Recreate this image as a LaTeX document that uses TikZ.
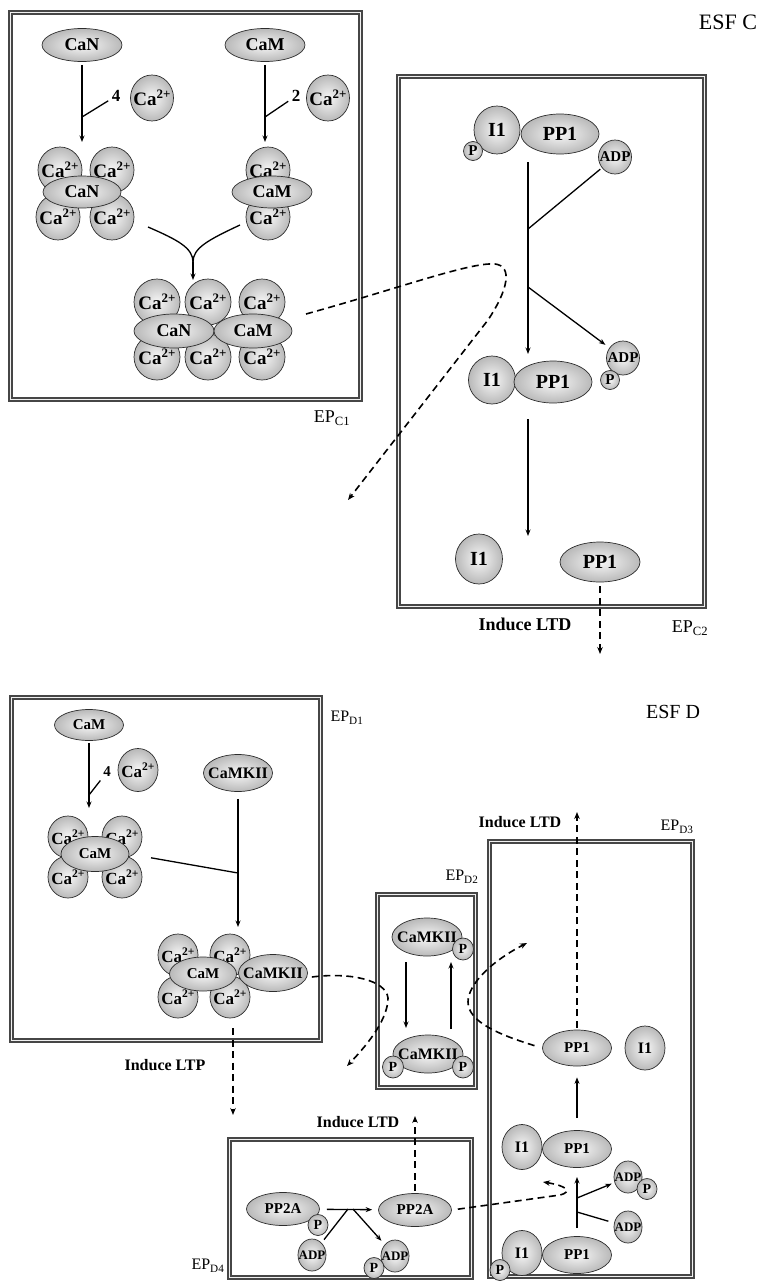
\documentclass[tikz,border=0pt]{standalone}
\usepackage{fontspec}
\usepackage{graphicx}
\setmainfont{Liberation Serif}
\usetikzlibrary{shapes.geometric,arrows.meta}

\newcommand{\caion}{\makebox[0pt]{Ca\raisebox{0.4em}{\scalebox{0.68}{2+}}}}
\newcommand{\caiondn}{\raisebox{-4pt}{\caion}}
\newcommand{\adptxt}{\makebox[0pt]{ADP}}

\tikzset{
  mol/.style 2 args={ellipse, draw=gray!35!black, line width=0.7pt,
    inner color=gray!6, outer color=gray!55, inner sep=0pt,
    minimum width=#1, minimum height=#2},
  fnt/.style={font=\bfseries\fontsize{#1}{#1}\selectfont},
  reg/.style={font=\fontsize{#1}{#1}\selectfont},
  epbox/.style={draw=gray!55!black, line width=4.6pt,
    postaction={draw=gray!12, line width=1.6pt}},
  bond/.style={line width=1.3pt},
  react/.style={line width=1.3pt, -{Stealth[length=6.5pt,width=5pt]}},
  signal/.style={line width=1.6pt, dash pattern=on 7pt off 4.5pt, -{Stealth[length=7pt,width=5.5pt]}},
}

\begin{document}
\begin{tikzpicture}[x=1pt,y=-1pt]
  \useasboundingbox (0,0) rectangle (762,1282);

  % ESF C: frames and labels.
  \node[reg=22] (esfC) at (728,22) {ESF C};
  \draw[epbox] (10.5,12.5) rectangle (360.5,399.5);
  \node[reg=18] (epC1) at (332,418) {EP\textsubscript{C1}};
  \draw[epbox] (398.5,76.5) rectangle (704.5,606.5);
  \node[reg=18] (epC2) at (690,628) {EP\textsubscript{C2}};
  \node[fnt=18] (ltdC2) at (525,624) {Induce LTD};

  % EP_C1: CaN and CaM bind calcium.
  \node[mol={80pt}{33pt}, fnt=18] (CaN) at (82,45) {CaN};
  \node[mol={80pt}{33pt}, fnt=18] (CaM) at (265,45) {CaM};
  \node[mol={43pt}{46pt}, fnt=19] (caA) at (152,98) {\caion};
  \node[mol={43pt}{46pt}, fnt=19] (caB) at (328,98) {\caion};
  \node[fnt=17] (nA) at (116,96) {4};
  \node[fnt=17] (nB) at (296,96) {2};
  \coordinate (jA) at (82,117);  \coordinate (eA) at (82,142);
  \coordinate (jB) at (265,117); \coordinate (eB) at (265,142);
  \draw[react, shorten <=3pt] (CaN) -- (eA);
  \draw[react, shorten <=3pt] (CaM) -- (eB);
  \draw[bond] (jA) -- (nA);
  \draw[bond] (jB) -- (nB);
  \foreach \x/\y/\n in {60/170/cn1,112/170/cn2}
    \node[mol={44pt}{46pt}, fnt=19] (\n) at (\x,\y) {\caiondn};
  \foreach \x/\y/\n in {58/217/cn3,112/217/cn4}
    \node[mol={44pt}{46pt}, fnt=19] (\n) at (\x,\y) {\caion};
  \node[mol={78pt}{32pt}, fnt=18] (CaNc) at (82,192) {CaN};
  \node[mol={44pt}{46pt}, fnt=19] (cm1) at (268,170) {\caiondn};
  \node[mol={44pt}{46pt}, fnt=19] (cm2) at (268,217) {\caion};
  \node[mol={80pt}{32pt}, fnt=18] (CaMc) at (272,192) {CaM};
  % Both complexes join.
  \coordinate (mL) at (148,227); \coordinate (mR) at (240,225);
  \coordinate (mJ) at (193,262); \coordinate (mE) at (193,280);
  \draw[bond] (mL) .. controls (178,240) and (193,248) .. (mJ);
  \draw[bond] (mR) .. controls (208,240) and (193,248) .. (mJ);
  \draw[react] (mJ) -- (mE);
  \foreach \x/\y/\n in {157/302/cb1,208/302/cb2,262/302/cb3}
    \node[mol={46pt}{46pt}, fnt=19] (\n) at (\x,\y) {\caiondn};
  \foreach \x/\y/\n in {157/357/cb4,208/357/cb5,262/357/cb6}
    \node[mol={46pt}{46pt}, fnt=19] (\n) at (\x,\y) {\caion};
  \node[mol={80pt}{34pt}, fnt=18] (CaNb) at (174,331) {CaN};
  \node[mol={78pt}{34pt}, fnt=18] (CaMb) at (253,331) {CaM};

  % EP_C2: I1 is dephosphorylated, PP1 set free.
  \node[mol={46pt}{48pt}, fnt=20] (I1a) at (497,130) {I1};
  \node[mol={19pt}{19pt}, fnt=15] (Pa) at (473,151) {P};
  \node[mol={78pt}{40pt}, fnt=20] (PP1a) at (560,134) {PP1};
  \node[mol={33pt}{34pt}, fnt=15] (ADPa) at (615,157) {\adptxt};
  \node[mol={33pt}{34pt}, fnt=15] (ADPb) at (623,358) {\adptxt};
  \node[mol={19pt}{19pt}, fnt=15] (Pb) at (610,380) {P};
  \node[mol={47pt}{48pt}, fnt=20] (I1b) at (492,380) {I1};
  \node[mol={78pt}{42pt}, fnt=20] (PP1b) at (553,382) {PP1};
  \node[mol={47pt}{50pt}, fnt=20] (I1c) at (479,559) {I1};
  \node[mol={80pt}{40pt}, fnt=20] (PP1c) at (600,562) {PP1};
  \coordinate (c2a) at (528,162); \coordinate (c2b) at (528,354);
  \coordinate (c2j1) at (528,229); \coordinate (c2j2) at (528,287);
  \coordinate (c2c) at (528,419); \coordinate (c2d) at (528,536);
  \draw[react] (c2a) -- (c2b);
  \draw[bond, shorten <=2pt] (ADPa) -- (c2j1);
  \draw[react, shorten >=5pt] (c2j2) -- (ADPb);
  \draw[react] (c2c) -- (c2d);
  \coordinate (oC2) at (600,654);
  \draw[signal, shorten <=4pt] (PP1c) -- (oC2);
  % Signal from EP_C1 to ESF D.
  \coordinate (sC1) at (306,314); \coordinate (tC1) at (348,500);
  \draw[signal] (sC1) .. controls (400,288) and (470,262) .. (495,264)
    .. controls (513,266) and (508,290) .. (488,320) -- (tC1);

  % ESF D: frames and labels.
  \node[reg=20] (esfD) at (673,712) {ESF D};
  \draw[epbox] (11.5,697.5) rectangle (320.5,1040.5);
  \node[reg=16] (epD1) at (347,718) {EP\textsubscript{D1}};
  \node[fnt=16] (ltpD1) at (165,1065) {Induce LTP};
  \draw[epbox] (377.5,894.5) rectangle (475.5,1087.5);
  \node[reg=16] (epD2) at (462,877) {EP\textsubscript{D2}};
  \draw[epbox] (489.5,841.5) rectangle (692.5,1276.5);
  \node[reg=16] (epD3) at (677,827) {EP\textsubscript{D3}};
  \node[fnt=16] (ltdD3) at (520,822) {Induce LTD};
  \draw[epbox] (229.5,1139.5) rectangle (471.5,1277.5);
  \node[reg=16] (epD4) at (208,1266) {EP\textsubscript{D4}};
  \node[fnt=16] (ltdD4) at (358,1122) {Induce LTD};

  % EP_D1: CaM binds calcium, then CaMKII.
  \node[mol={69pt}{31pt}, fnt=15] (CaMd) at (89,725) {CaM};
  \node[mol={40pt}{43pt}, fnt=17] (caD) at (138,770) {\caion};
  \node[fnt=15] (nD) at (107,772) {4};
  \coordinate (d1j) at (89,795); \coordinate (d1e) at (89,808);
  \draw[react, shorten <=2pt] (CaMd) -- (d1e);
  \draw[bond] (d1j) -- (nD);
  \node[mol={69pt}{37pt}, fnt=16] (CaMKIIa) at (238,773) {\makebox[0pt]{CaMKII}};
  \coordinate (d1k) at (238,873); \coordinate (d1ke) at (238,927);
  \draw[react, shorten <=7pt] (CaMKIIa) -- (d1ke);
  \foreach \x/\y/\n in {68/837/dn1,122/837/dn2}
    \node[mol={40pt}{42pt}, fnt=17] (\n) at (\x,\y) {\caiondn};
  \foreach \x/\y/\n in {68/877/dn3,122/877/dn4}
    \node[mol={40pt}{42pt}, fnt=17] (\n) at (\x,\y) {\caion};
  \node[mol={68pt}{35pt}, fnt=15] (CaMe) at (95,854) {CaM};
  \draw[bond, shorten <=22pt] (CaMe.east) -- (d1k);
  \foreach \x/\y/\n in {178/955/dm1,230/955/dm2}
    \node[mol={40pt}{42pt}, fnt=17] (\n) at (\x,\y) {\caiondn};
  \foreach \x/\y/\n in {178/997/dm3,230/997/dm4}
    \node[mol={40pt}{42pt}, fnt=17] (\n) at (\x,\y) {\caion};
  \node[mol={67pt}{34pt}, fnt=15] (CaMf) at (203,974) {CaM};
  \node[mol={69pt}{37pt}, fnt=16] (CaMKIIb) at (273,973) {\makebox[0pt]{CaMKII}};
  \coordinate (d1o) at (233,1028); \coordinate (d1t) at (233,1115);
  \draw[signal] (d1o) -- (d1t);
  \coordinate (tD1) at (347,1066);
  \draw[signal] ([xshift=4pt,yshift=-4pt]CaMKIIb.east) .. controls (350,972) and (386,980) .. (388,998)
    .. controls (388,1018) and (370,1042) .. (tD1);

  % EP_D2: CaMKII phosphorylation cycle.
  \node[mol={70pt}{38pt}, fnt=16] (CaMKIIc) at (427,937) {\makebox[0pt]{CaMKII}};
  \node[mol={21pt}{22pt}, fnt=14] (Pd1) at (463,949) {P};
  \node[mol={70pt}{38pt}, fnt=16] (CaMKIId) at (428,1054) {\makebox[0pt]{CaMKII}};
  \node[mol={21pt}{22pt}, fnt=14] (Pd2) at (393,1067) {P};
  \node[mol={21pt}{22pt}, fnt=14] (Pd3) at (463,1067) {P};
  \coordinate (d2a) at (406,962); \coordinate (d2b) at (406,1028);
  \coordinate (d2c) at (451,1029); \coordinate (d2d) at (451,962);
  \draw[react] (d2a) -- (d2b);
  \draw[react] (d2c) -- (d2d);

  % EP_D3: PP1 released from I1.
  \node[mol={69pt}{36pt}, fnt=15] (PP1d) at (577,1048) {PP1};
  \node[mol={40pt}{44pt}, fnt=16] (I1d) at (645,1048) {I1};
  \coordinate (tD3) at (577,812);
  \draw[signal, shorten <=2pt] (PP1d) -- (tD3);
  \coordinate (tD2) at (527,943);
  \draw[signal, shorten <=8pt] (PP1d.west) .. controls (500,1035) and (468,1022) .. (468,1002)
    .. controls (468,985) and (490,962) .. (tD2);
  \node[mol={40pt}{45pt}, fnt=16] (I1e) at (522,1147) {I1};
  \node[mol={69pt}{37pt}, fnt=15] (PP1e) at (577,1149) {PP1};
  \draw[react, shorten <=12pt, shorten >=11pt] (PP1e) -- (PP1d);
  \node[mol={28pt}{32pt}, fnt=13] (ADPc) at (628,1177) {\adptxt};
  \node[mol={20pt}{21pt}, fnt=14] (Pc) at (647,1189) {P};
  \node[mol={28pt}{32pt}, fnt=13] (ADPd) at (628,1227) {\adptxt};
  \coordinate (d3a) at (577,1228); \coordinate (d3b) at (577,1177);
  \coordinate (d3j1) at (577,1198); \coordinate (d3j2) at (577,1212);
  \draw[react] (d3a) -- (d3b);
  \draw[react, shorten >=3pt] (d3j1) -- (ADPc);
  \draw[bond, shorten <=6pt] (ADPd) -- (d3j2);
  \node[mol={40pt}{45pt}, fnt=16] (I1f) at (522,1253) {I1};
  \node[mol={20pt}{21pt}, fnt=14] (Pf) at (500,1270) {P};
  \node[mol={69pt}{37pt}, fnt=15] (PP1f) at (577,1255) {PP1};

  % EP_D4: PP2A dephosphorylated.
  \node[mol={73pt}{33pt}, fnt=15] (PP2Aa) at (283,1209) {PP2A};
  \node[mol={20pt}{21pt}, fnt=14] (Pg) at (318,1225) {P};
  \node[mol={73pt}{33pt}, fnt=15] (PP2Ab) at (415,1210) {PP2A};
  \draw[react, shorten <=7pt, shorten >=6pt] (PP2Aa) -- (PP2Ab);
  \node[mol={28pt}{32pt}, fnt=13] (ADPe) at (312,1255) {\adptxt};
  \node[mol={28pt}{32pt}, fnt=13] (ADPf) at (395,1256) {\adptxt};
  \node[mol={20pt}{21pt}, fnt=14] (Ph) at (374,1268) {P};
  \coordinate (d4j1) at (348,1209); \coordinate (d4j2) at (353,1209);
  \draw[bond, shorten <=4pt] (ADPe) -- (d4j1);
  \draw[react, shorten >=5pt] (d4j2) -- (ADPf);
  \coordinate (tD4a) at (415,1116);
  \draw[signal, shorten <=2pt] (PP2Ab) -- (tD4a);
  \coordinate (tD4b) at (543,1182);
  \draw[signal, shorten <=6pt] (PP2Ab.east) -- (560,1195)
    .. controls (572,1192) and (568,1186) .. (tD4b);
\end{tikzpicture}
\end{document}
